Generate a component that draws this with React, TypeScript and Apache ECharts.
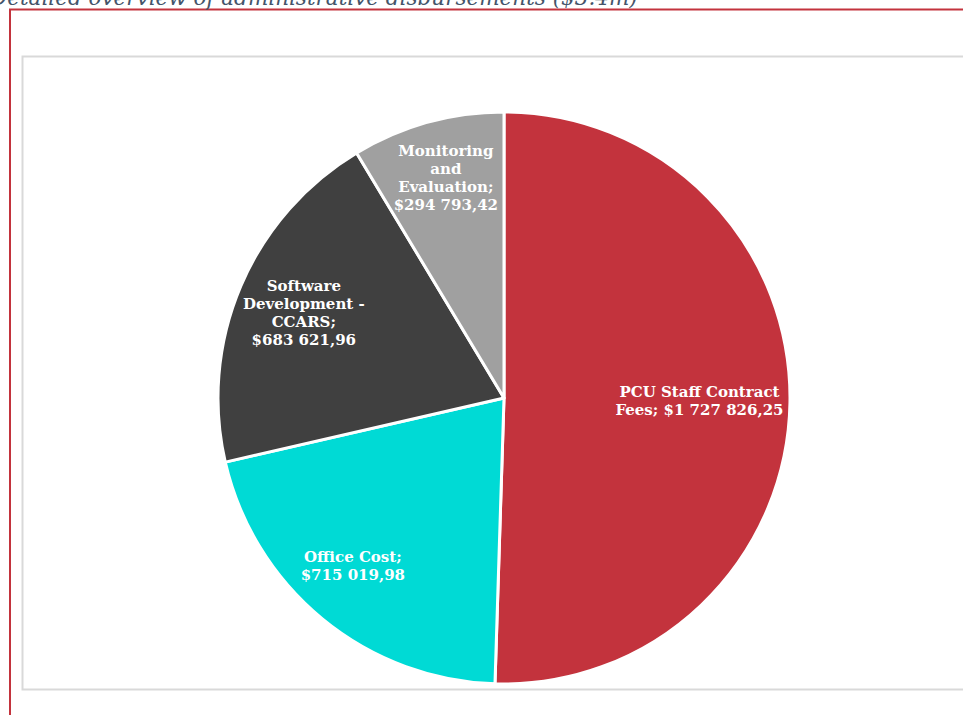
import React, { useEffect, useRef } from "react";
import * as echarts from "echarts";

const titleText = "Detailed overview of administrative disbursements ($3.4m)";
const categories = [
  "PCU Staff Contract Fees",
  "Office Cost",
  "Software Development - CCARS",
  "Monitoring and Evaluation",
];
const labelNames = [
  "PCU Staff Contract\nFees; ",
  "Office Cost;\n",
  "Software\nDevelopment -\nCCARS;\n",
  "Monitoring\nand\nEvaluation;\n",
];
const values = [1727826.25, 715019.98, 683621.96, 294793.42];
const colors = ["#C3333D", "#00DAD5", "#404040", "#A0A0A0"];

function fmt(v: number): string {
  const [i, d] = v.toFixed(2).split(".");
  const withSpaces = i.replace(/\B(?=(\d{3})+(?!\d))/g, " ");
  return "$" + withSpaces + "," + d;
}

export default function App() {
  const ref = useRef<HTMLDivElement>(null);
  useEffect(() => {
    if (!ref.current) return;
    const chart = echarts.init(ref.current, undefined, { renderer: "svg" });
    const data = categories.map((c, i) => ({
      name: c,
      value: values[i],
      itemStyle: { color: colors[i] },
    }));
    const labelData = categories.map((c, i) => ({
      name: c,
      value: values[i],
      label: { formatter: labelNames[i] + fmt(values[i]) },
    }));
    const R = 286;
    chart.setOption({
      animation: false,
      backgroundColor: "#ffffff",
      graphic: [
        {
          type: "rect",
          shape: { x: 10, y: 9.5, width: 1000, height: 800 },
          style: { fill: "none", stroke: "#C3333D", lineWidth: 2 },
          silent: true,
        },
        {
          type: "rect",
          shape: { x: 22.5, y: 56.5, width: 1000, height: 633 },
          style: { fill: "none", stroke: "#D9D9D9", lineWidth: 2 },
          silent: true,
        },
        {
          type: "text",
          x: -10,
          y: -3,
          style: {
            text: titleText,
            font: "italic 21.5px 'DejaVu Serif'",
            fill: "#44546A",
            verticalAlign: "middle",
            align: "left",
          },
          silent: true,
        },
      ],
      series: [
        {
          type: "pie",
          center: [504, 398],
          radius: [0, R],
          startAngle: 90,
          clockwise: true,
          data,
          label: { show: false },
          labelLine: { show: false },
          itemStyle: { borderColor: "#ffffff", borderWidth: 3 },
          emphasis: { disabled: true },
          silent: true,
        },
        {
          type: "pie",
          center: [504, 398],
          radius: [R * 0.5, R],
          startAngle: 90,
          clockwise: true,
          data: labelData,
          itemStyle: { color: "rgba(0,0,0,0)", borderWidth: 0 },
          label: {
            show: true,
            position: "inside",
            color: "#ffffff",
            fontFamily: "'DejaVu Serif'",
            fontWeight: "bold",
            fontSize: 15,
            lineHeight: 18,
            align: "center",
          },
          labelLayout: (p: any) =>
            p.dataIndex === 0
              ? { dx: -22 }
              : p.dataIndex === 1
              ? { dx: -13 }
              : p.dataIndex === 3
              ? { dy: -10 }
              : {},
          labelLine: { show: false },
          emphasis: { disabled: true },
          silent: true,
          z: 3,
        },
      ],
    });
    return () => chart.dispose();
  }, []);
  return (
    <div
      ref={ref}
      style={{ position: "fixed", left: 0, top: 0, width: 963, height: 715 }}
    />
  );
}
